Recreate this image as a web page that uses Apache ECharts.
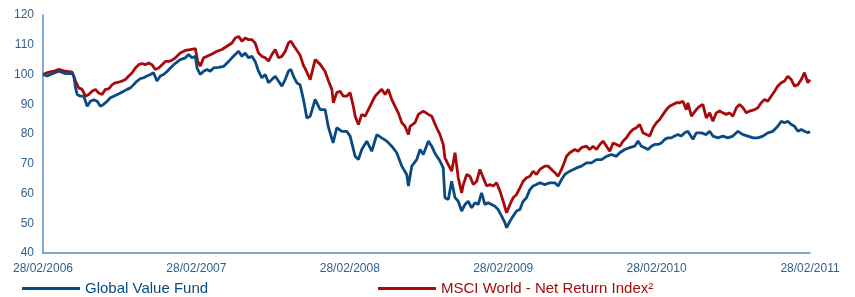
<!DOCTYPE html>
<html>
<head>
<meta charset="utf-8">
<script src="https://cdn.jsdelivr.net/npm/echarts/dist/echarts.min.js"></script>
<style>
  html, body { margin: 0; padding: 0; background: #fff; }
  #chart { width: 855px; height: 297px; }
</style>
</head>
<body>
<div id="chart"></div>
<script>
// years since 28/02/2006
var tickLabels = ["28/02/2006", "28/02/2007", "28/02/2008", "28/02/2009", "28/02/2010", "28/02/2011"];

var fundYears = [0, 0.027, 0.049, 0.103, 0.146, 0.190, 0.201, 0.212, 0.223, 0.244, 0.266, 0.288, 0.309, 0.331, 0.353, 0.374, 0.396, 0.418, 0.439, 0.461, 0.505, 0.526, 0.548, 0.570, 0.591, 0.613, 0.635, 0.656, 0.678, 0.700, 0.721, 0.743, 0.765, 0.786, 0.809, 0.830, 0.852, 0.863, 0.895, 0.928, 0.949, 0.971, 0.993, 1.004, 1.025, 1.047, 1.069, 1.090, 1.112, 1.145, 1.177, 1.210, 1.232, 1.253, 1.275, 1.297, 1.318, 1.340, 1.362, 1.383, 1.405, 1.427, 1.449, 1.470, 1.492, 1.514, 1.535, 1.557, 1.579, 1.600, 1.616, 1.633, 1.655, 1.676, 1.698, 1.720, 1.742, 1.774, 1.807, 1.839, 1.859, 1.891, 1.915, 1.948, 1.980, 2.002, 2.035, 2.056, 2.078, 2.111, 2.143, 2.176, 2.208, 2.241, 2.273, 2.306, 2.339, 2.371, 2.382, 2.404, 2.436, 2.458, 2.479, 2.512, 2.534, 2.555, 2.588, 2.609, 2.620, 2.642, 2.664, 2.686, 2.707, 2.729, 2.751, 2.772, 2.794, 2.816, 2.837, 2.859, 2.881, 2.902, 2.924, 2.946, 2.967, 2.990, 3.011, 3.022, 3.044, 3.065, 3.087, 3.109, 3.130, 3.152, 3.174, 3.195, 3.217, 3.239, 3.271, 3.304, 3.337, 3.358, 3.380, 3.402, 3.434, 3.478, 3.510, 3.543, 3.576, 3.608, 3.641, 3.673, 3.706, 3.738, 3.760, 3.792, 3.825, 3.857, 3.879, 3.901, 3.923, 3.944, 3.966, 3.988, 4.009, 4.031, 4.053, 4.074, 4.096, 4.118, 4.139, 4.161, 4.183, 4.204, 4.215, 4.237, 4.259, 4.292, 4.324, 4.346, 4.367, 4.400, 4.432, 4.465, 4.497, 4.530, 4.563, 4.595, 4.628, 4.660, 4.693, 4.725, 4.758, 4.790, 4.813, 4.834, 4.855, 4.878, 4.899, 4.921, 4.943, 4.964, 4.986, 5.0];
var fundValues = [100, 99.5, 100, 101.1, 100.3, 100.3, 99.5, 95.5, 93.3, 92.7, 92.7, 89.3, 91, 91.5, 91, 89.3, 90, 91, 92.2, 92.7, 93.8, 94.4, 95, 95.5, 96.6, 97.8, 98.6, 98.9, 99.5, 100, 100.6, 97.8, 99.5, 100, 101, 102.2, 103.3, 103.9, 105, 105.6, 106.7, 105.6, 106.1, 102.2, 100, 101.1, 101.7, 101.1, 102.2, 102.4, 102.7, 104.4, 105.6, 106.7, 107.8, 106.1, 107.2, 105.6, 106.1, 104.4, 101.1, 98.9, 100, 97.2, 98.3, 99.4, 97.8, 96.1, 98.3, 101.1, 101.7, 99.4, 97.2, 96.5, 91.6, 85.4, 86, 91.6, 88.2, 88.2, 82.6, 77.0, 82.1, 80.9, 80.9, 79.3, 72.5, 71.4, 74.8, 77.6, 74.2, 79.8, 78.7, 77.6, 75.9, 73.7, 69.2, 66.4, 62.5, 69.2, 71.4, 74.8, 73.1, 77.6, 75.9, 73.5, 70.9, 68.6, 58.6, 58, 64.1, 58.6, 57.4, 54.1, 56.3, 57.4, 55.2, 56.9, 56.3, 60.2, 56.3, 56.9, 56.3, 55.7, 54.6, 52.4, 50.2, 48.5, 50.7, 52.4, 54.1, 54.6, 57.4, 58.6, 61.3, 62.5, 63.0, 63.6, 63.0, 63.6, 63.6, 62.5, 64.7, 66.4, 67.5, 68.6, 69.2, 70.3, 70.3, 71.4, 71.4, 72.5, 73.1, 72.5, 73.7, 74.8, 75.4, 75.9, 77.6, 75.9, 75.4, 74.8, 75.9, 76.5, 76.5, 77.0, 78.2, 78.7, 78.7, 79.3, 79.8, 79.3, 80.4, 80.9, 80, 78.2, 80.4, 80.4, 79.8, 80.9, 79.3, 78.7, 79.3, 78.7, 79.3, 80.9, 79.8, 79.3, 78.7, 78.7, 79.3, 80.4, 80.9, 82.6, 84.3, 83.8, 84.3, 83.2, 82.6, 80.9, 81.5, 80.9, 80.4, 80.9];

var indexYears = [0, 0.027, 0.070, 0.103, 0.146, 0.190, 0.212, 0.233, 0.255, 0.277, 0.298, 0.320, 0.342, 0.363, 0.385, 0.407, 0.428, 0.451, 0.472, 0.493, 0.516, 0.537, 0.559, 0.581, 0.602, 0.624, 0.646, 0.667, 0.689, 0.711, 0.732, 0.754, 0.776, 0.798, 0.819, 0.841, 0.863, 0.895, 0.928, 0.960, 0.993, 1.008, 1.025, 1.047, 1.069, 1.102, 1.134, 1.167, 1.199, 1.232, 1.253, 1.275, 1.297, 1.318, 1.340, 1.362, 1.383, 1.405, 1.427, 1.449, 1.470, 1.492, 1.514, 1.535, 1.557, 1.579, 1.600, 1.616, 1.637, 1.659, 1.676, 1.698, 1.709, 1.742, 1.774, 1.807, 1.839, 1.861, 1.883, 1.893, 1.915, 1.937, 1.958, 1.980, 2.002, 2.023, 2.035, 2.056, 2.078, 2.100, 2.121, 2.143, 2.165, 2.186, 2.208, 2.230, 2.251, 2.273, 2.295, 2.316, 2.339, 2.360, 2.382, 2.393, 2.425, 2.447, 2.479, 2.512, 2.534, 2.566, 2.588, 2.609, 2.620, 2.642, 2.664, 2.686, 2.707, 2.729, 2.740, 2.762, 2.783, 2.805, 2.827, 2.848, 2.870, 2.892, 2.913, 2.935, 2.957, 2.979, 3.000, 3.022, 3.044, 3.065, 3.087, 3.109, 3.130, 3.152, 3.174, 3.195, 3.217, 3.239, 3.271, 3.293, 3.315, 3.337, 3.358, 3.380, 3.402, 3.413, 3.434, 3.467, 3.488, 3.510, 3.543, 3.564, 3.586, 3.608, 3.630, 3.651, 3.673, 3.695, 3.716, 3.738, 3.760, 3.781, 3.803, 3.825, 3.846, 3.868, 3.890, 3.911, 3.934, 3.955, 3.977, 3.999, 4.020, 4.042, 4.064, 4.085, 4.107, 4.129, 4.150, 4.172, 4.194, 4.204, 4.227, 4.237, 4.259, 4.281, 4.302, 4.324, 4.346, 4.367, 4.389, 4.411, 4.432, 4.454, 4.476, 4.497, 4.520, 4.541, 4.563, 4.585, 4.606, 4.639, 4.660, 4.682, 4.704, 4.725, 4.747, 4.769, 4.790, 4.813, 4.834, 4.855, 4.878, 4.899, 4.921, 4.943, 4.964, 4.975, 4.986, 5.0];
var indexValues = [100, 100.6, 101.1, 101.7, 101.1, 100.8, 97.8, 95.5, 95, 92.7, 93.3, 94.4, 95, 93.8, 93.3, 95, 95.2, 96.6, 97.2, 97.4, 97.8, 98.3, 99.5, 100.6, 102.2, 103.3, 103.7, 103.3, 103.9, 103.3, 101.7, 102.2, 103.3, 104.4, 104.4, 104.8, 105.6, 107.2, 108.1, 108.4, 108.7, 104.5, 102.8, 105.6, 106.1, 106.9, 107.8, 108.4, 109.5, 110.6, 112.3, 112.8, 111.2, 112.3, 111.7, 111.7, 110.6, 107.2, 106.1, 105.6, 104.5, 106.7, 108.4, 105.6, 106.1, 107.8, 110.6, 111.2, 109.5, 107.8, 106.5, 103, 102, 98.3, 105, 103.4, 101, 97.8, 95, 90.5, 93.9, 94.4, 92.7, 92.7, 93.9, 89.3, 86, 83.2, 86.6, 86, 88.2, 90.5, 92.7, 93.9, 95, 93.3, 95, 91.6, 89.3, 87.1, 83.8, 82.6, 79.8, 82.6, 83.8, 86.6, 87.7, 86.6, 86, 82.1, 79.8, 76.5, 72, 69.7, 67.5, 73.7, 65.3, 60.2, 63, 66.4, 65.8, 63, 64.1, 68.1, 65.3, 62.5, 63, 62.5, 63.6, 60.8, 57.4, 53.5, 56.3, 58.6, 59.7, 61.9, 64.1, 65.3, 65.8, 67.5, 66.4, 68.1, 69.2, 69.2, 68.1, 67, 65.8, 68.1, 70.9, 72.5, 73.7, 74.8, 74.2, 75.4, 75.9, 74.8, 75.9, 74.8, 76.5, 77.6, 75.9, 74.2, 77, 76.5, 75.9, 77.6, 78.7, 80.4, 81.5, 82.1, 83.2, 80.4, 79.8, 79.3, 82.1, 83.8, 84.9, 86.6, 88.2, 89.3, 89.9, 90.5, 90.5, 91, 88.2, 90.5, 86, 85.4, 88.2, 89.3, 89.9, 85.4, 87.1, 84.3, 87.1, 87.7, 87.1, 86.6, 87.1, 86, 88.8, 89.9, 88.8, 87.1, 87.7, 88.2, 88.8, 90.5, 91.6, 91, 92.7, 94.4, 96.1, 97.2, 97.8, 99.4, 98.3, 96.1, 96.6, 98.3, 100.6, 98.9, 97.2, 98.3];

function pairs(xs, ys) {
  return xs.map(function (x, i) { return [x, ys[i]]; });
}

var blue = "#0b4a80";
var red = "#a80a0a";
var axisColor = "#5a8cbf";
var labelColor = "#2f5f8e";

var myChart = echarts.init(document.getElementById("chart"));
var option = {
  animation: false,
  grid: {
    left: 43,
    right: 45,
    top: 15,
    bottom: 44
  },
  legend: [
    {
      left: 17,
      top: 276,
      icon: "rect",
      itemWidth: 58,
      itemHeight: 3,
      textStyle: { fontFamily: "Liberation Sans, Arial, sans-serif", fontSize: 15, color: blue },
      data: ["Global Value Fund"]
    },
    {
      left: 373,
      top: 276,
      icon: "rect",
      itemWidth: 58,
      itemHeight: 3,
      textStyle: { fontFamily: "Liberation Sans, Arial, sans-serif", fontSize: 15, color: red },
      data: ["MSCI World - Net Return Index²"]
    }
  ],
  xAxis: {
    type: "value",
    min: 0,
    max: 5,
    interval: 1,
    axisLine: { lineStyle: { color: axisColor, width: 1.5 } },
    axisTick: { show: false },
    splitLine: { show: false },
    axisLabel: {
      margin: 10,
      color: labelColor,
      fontFamily: "Liberation Sans, Arial, sans-serif",
      fontSize: 12,
      formatter: function (v) { return tickLabels[Math.round(v)]; }
    }
  },
  yAxis: {
    type: "value",
    min: 40,
    max: 120,
    interval: 10,
    axisLine: { show: true, lineStyle: { color: axisColor, width: 1.5 } },
    axisTick: { show: false },
    splitLine: { show: false },
    axisLabel: {
      margin: 9,
      color: labelColor,
      fontFamily: "Liberation Sans, Arial, sans-serif",
      fontSize: 12
    }
  },
  series: [
    {
      name: "Global Value Fund",
      type: "line",
      showSymbol: false,
      z: 3,
      color: blue,
      lineStyle: { color: blue, width: 2.8 },
      data: pairs(fundYears, fundValues)
    },
    {
      name: "MSCI World - Net Return Index²",
      type: "line",
      showSymbol: false,
      z: 2,
      color: red,
      lineStyle: { color: red, width: 2.8 },
      data: pairs(indexYears, indexValues)
    }
  ]
};
myChart.setOption(option);
</script>
</body>
</html>
